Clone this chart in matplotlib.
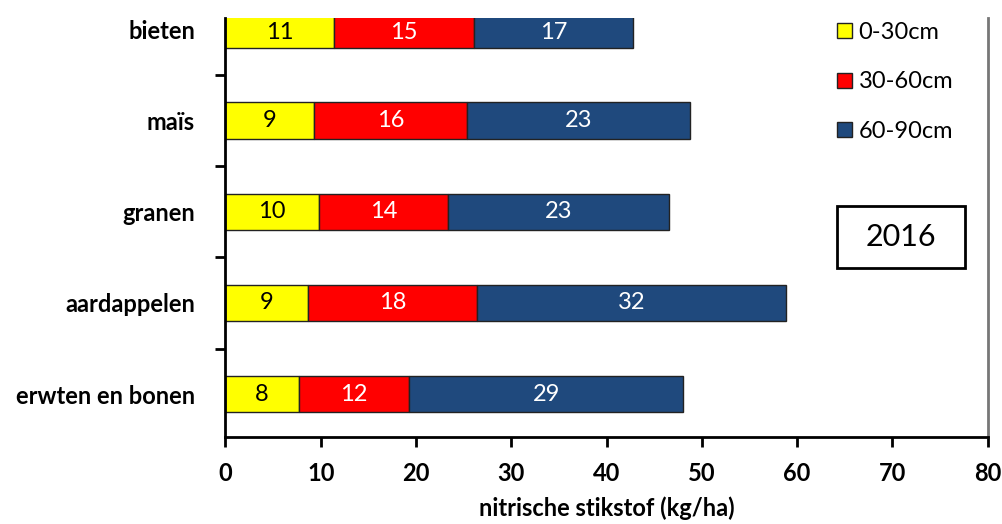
import matplotlib.pyplot as plt
from matplotlib.patches import Rectangle
import numpy as np

plt.rcParams['font.family'] = ['Lato', 'DejaVu Sans']

gewassen = ['erwten en bonen', 'aardappelen', 'granen', 'maïs', 'bieten']
laag_0_30 = [7.7, 8.7, 9.8, 9.3, 11.4]
laag_30_60 = [11.6, 17.7, 13.6, 16.1, 14.7]
laag_60_90 = [28.7, 32.4, 23.1, 23.3, 16.7]
lagen = ['0-30cm', '30-60cm', '60-90cm']
kleuren = ['#FFFF00', '#FF0000', '#1F497D']
tekstkleur = ['black', 'white', 'white']

fig = plt.figure(figsize=(10.03, 5.24), dpi=100)
ax = fig.add_axes([0.2248, 0.166, 0.76, 0.7996])

y = np.arange(len(gewassen))
links = np.zeros(len(gewassen))
for waarden, naam, kleur, tk in zip([laag_0_30, laag_30_60, laag_60_90], lagen, kleuren, tekstkleur):
    bars = ax.barh(y, waarden, left=links, height=0.4, color=kleur,
                   edgecolor='#222222', linewidth=1, label=naam)
    ax.bar_label(bars, labels=['%.0f' % w for w in waarden], label_type='center',
                 color=tk, fontsize=17)
    links += np.array(waarden)

ax.set_xlim(0, 80)
ax.set_ylim(-0.47, 4.125)
ax.set_xticks(range(0, 81, 10))
ax.set_yticks(y)
ax.set_yticklabels(gewassen, fontsize=17, fontweight='bold')
ax.set_yticks([0.5, 1.5, 2.5, 3.5], minor=True)
ax.tick_params(axis='y', which='major', length=0, pad=22)
ax.tick_params(axis='y', which='minor', length=7, width=2, direction='out')
ax.tick_params(axis='x', length=7, width=2, direction='out', labelsize=17, pad=11)
for t in ax.get_xticklabels():
    t.set_fontweight('bold')

ax.spines['top'].set_visible(False)
ax.spines['left'].set_linewidth(2)
ax.spines['bottom'].set_linewidth(2)
ax.spines['right'].set_color('#777777')
ax.spines['right'].set_linewidth(2)

ax.set_xlabel('nitrische stikstof (kg/ha)', fontsize=17, fontweight='bold', labelpad=8)

leg = ax.legend(loc='upper left', bbox_to_anchor=(0.775, 1.042), frameon=False,
                fontsize=17, handlelength=0.6, handleheight=0.6,
                labelspacing=1.22, handletextpad=0.3)
for h in leg.legend_handles:
    h.set_edgecolor('#222222')

# jaartal in een kader
fig.patches.append(Rectangle((0.8345, 0.4885), 0.1276, 0.1183, transform=fig.transFigure,
                             facecolor='white', edgecolor='black', linewidth=2))
fig.text(0.898, 0.5477, '2016', fontsize=22, ha='center', va='center')

fig.savefig('out.png', dpi=100)
